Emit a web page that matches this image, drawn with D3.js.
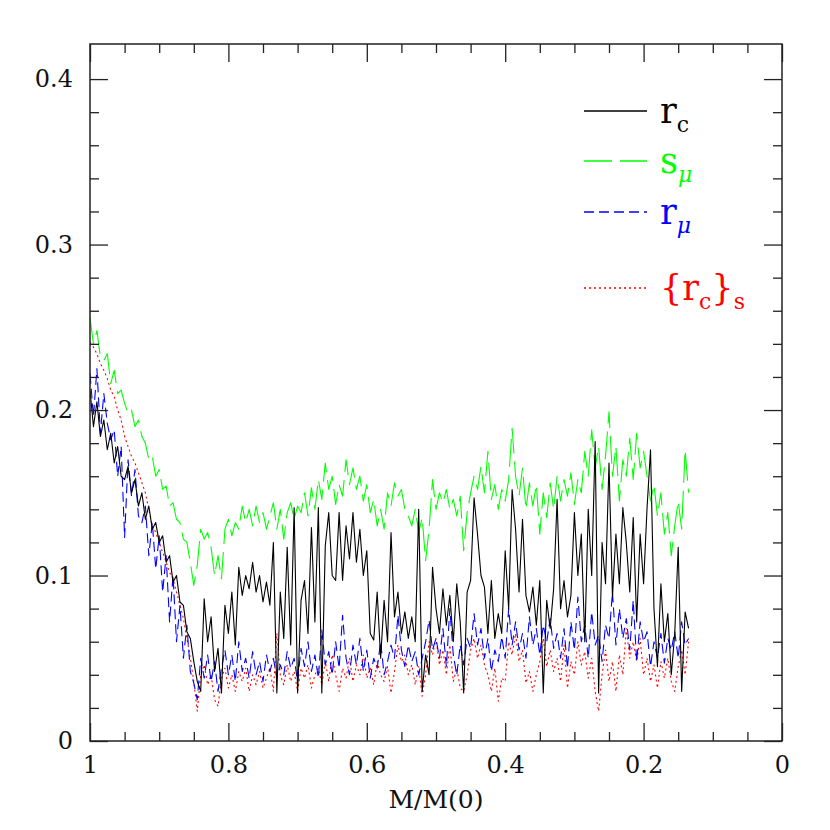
<!DOCTYPE html>
<html><head><meta charset="utf-8">
<script src="https://cdn.jsdelivr.net/npm/d3@7"></script>
<style>
body{margin:0;background:#fff;}
svg{display:block;}
text{font-family:"DejaVu Serif",serif;}
</style></head>
<body><svg id="c" width="830" height="830"></svg>
<script>
const M = [
1,.995,.99,.985,.98,.975,.97,.965,.96,.955,
.95,.945,.94,.935,.93,.925,.92,.915,.91,.905,
.9,.895,.89,.885,.88,.875,.87,.865,.86,.855,
.85,.845,.84,.835,.83,.825,.82,.815,.81,.805,
.8,.795,.79,.785,.78,.775,.77,.765,.76,.755,
.75,.745,.74,.735,.73,.725,.72,.715,.71,.705,
.7,.695,.69,.685,.68,.675,.67,.665,.66,.655,
.65,.645,.64,.635,.63,.625,.62,.615,.61,.605,
.6,.595,.59,.585,.58,.575,.57,.565,.56,.555,
.55,.545,.54,.535,.53,.525,.52,.515,.51,.505,
.5,.495,.49,.485,.48,.475,.47,.465,.46,.455,
.45,.445,.44,.435,.43,.425,.42,.415,.41,.405,
.4,.395,.39,.385,.38,.375,.37,.365,.36,.355,
.35,.345,.34,.335,.33,.325,.32,.315,.31,.305,
.3,.295,.29,.285,.28,.275,.27,.265,.26,.255,
.25,.245,.24,.235,.23,.225,.22,.215,.21,.205,
.2,.195,.19,.185,.18,.175,.17,.165,.16,.155,
.15,.145,.14,.135];

const rc = [
.212,.190,.205,.184,.194,.176,.186,.168,.178,.160,
.158,.166,.150,.158,.142,.150,.134,.142,.128,.132,
.120,.124,.108,.112,.096,.100,.084,.082,.066,.062,
.048,.036,.030,.086,.060,.075,.042,.056,.029,.082,
.065,.090,.058,.105,.088,.100,.092,.108,.090,.100,
.084,.096,.082,.120,.029,.090,.062,.117,.058,.141,
.029,.085,.097,.065,.129,.072,.141,.029,.118,.138,
.100,.097,.138,.097,.130,.110,.138,.108,.128,.100,
.115,.065,.061,.090,.050,.085,.060,.126,.075,.090,
.065,.078,.062,.075,.060,.140,.030,.052,.040,.105,
.080,.065,.092,.070,.088,.060,.095,.072,.029,.090,
.097,.147,.125,.100,.093,.065,.097,.062,.077,.065,
.115,.080,.152,.128,.090,.134,.088,.078,.093,.070,
.097,.029,.085,.068,.092,.146,.080,.097,.075,.088,
.138,.100,.125,.060,.140,.100,.181,.029,.120,.095,
.168,.087,.125,.095,.141,.120,.090,.135,.072,.125,
.095,.141,.176,.080,.045,.095,.060,.077,.040,.065,
.117,.030,.078,.068];

const smu = [
.256,.240,.248,.232,.230,.234,.216,.224,.210,.212,
.204,.198,.200,.190,.194,.184,.180,.170,.172,.160,
.164,.152,.154,.142,.144,.134,.132,.122,.120,.108,
.094,.106,.128,.122,.126,.117,.100,.112,.098,.128,
.134,.124,.132,.128,.142,.132,.140,.130,.142,.132,
.138,.128,.136,.144,.128,.140,.122,.138,.144,.134,
.142,.138,.150,.136,.153,.140,.158,.146,.168,.152,
.160,.143,.155,.148,.170,.155,.165,.152,.160,.145,
.155,.138,.146,.130,.140,.128,.150,.142,.156,.148,
.152,.140,.136,.130,.140,.126,.135,.109,.128,.158,
.140,.150,.144,.152,.140,.146,.136,.148,.115,.138,
.150,.160,.152,.166,.150,.175,.146,.155,.140,.152,
.145,.158,.189,.160,.148,.165,.140,.156,.142,.155,
.125,.150,.135,.156,.140,.160,.145,.158,.148,.162,
.143,.158,.150,.175,.160,.188,.165,.178,.152,.172,
.199,.160,.178,.145,.170,.160,.183,.158,.186,.165,
.175,.160,.145,.155,.136,.150,.125,.138,.112,.130,
.145,.128,.176,.150];

const rmu = [
.222,.196,.225,.186,.210,.192,.182,.188,.160,.178,
.123,.170,.148,.164,.136,.132,.142,.112,.132,.104,
.124,.090,.112,.072,.100,.060,.082,.050,.070,.042,
.035,.025,.050,.038,.052,.036,.048,.030,.044,.055,
.040,.052,.036,.060,.042,.050,.038,.054,.040,.048,
.036,.052,.042,.050,.038,.046,.040,.054,.044,.050,
.036,.056,.045,.060,.042,.052,.038,.067,.046,.054,
.040,.060,.044,.076,.050,.040,.058,.046,.062,.042,
.055,.038,.050,.044,.060,.040,.048,.058,.050,.076,
.055,.045,.058,.048,.054,.040,.050,.060,.073,.055,
.062,.050,.068,.045,.080,.052,.040,.058,.046,.062,
.056,.077,.058,.068,.050,.062,.042,.055,.048,.063,
.050,.080,.058,.072,.055,.065,.050,.075,.058,.068,
.052,.070,.060,.074,.056,.065,.050,.068,.044,.072,
.055,.087,.060,.070,.050,.078,.058,.064,.048,.070,
.062,.090,.058,.080,.062,.074,.055,.085,.048,.072,
.060,.066,.045,.060,.050,.065,.047,.062,.055,.066,
.050,.072,.058,.062];

const rcs = [
.241,.238,.234,.228,.224,.219,.212,.208,.200,.194,
.184,.178,.172,.168,.162,.156,.150,.140,.130,.126,
.120,.114,.108,.102,.098,.090,.082,.074,.062,.050,
.036,.018,.040,.046,.034,.040,.025,.021,.038,.044,
.032,.040,.030,.042,.036,.044,.030,.040,.034,.042,
.032,.038,.044,.030,.065,.040,.034,.046,.036,.042,
.030,.044,.038,.046,.032,.040,.044,.034,.048,.036,
.052,.040,.030,.044,.038,.050,.036,.046,.040,.052,
.038,.044,.034,.048,.040,.036,.045,.029,.042,.058,
.048,.052,.040,.046,.034,.045,.027,.040,.060,.052,
.062,.046,.055,.040,.058,.036,.044,.032,.030,.040,
.055,.062,.050,.058,.046,.040,.030,.044,.024,.038,
.036,.060,.052,.065,.048,.055,.035,.042,.030,.040,
.048,.062,.045,.055,.042,.050,.036,.058,.032,.048,
.040,.060,.046,.054,.038,.050,.030,.018,.040,.055,
.036,.048,.030,.052,.040,.068,.050,.060,.048,.062,
.040,.050,.036,.046,.032,.048,.038,.050,.036,.030,
.045,.055,.040,.060];

const xMajor = [1, 0.8, 0.6, 0.4, 0.2, 0];
const xMajorLabels = ["1", "0.8", "0.6", "0.4", "0.2", "0"];
const xMinor = [0.95,0.9,0.85,0.75,0.7,0.65,0.55,0.5,0.45,0.35,0.3,0.25,0.15,0.1,0.05];
const yMajor = [0, 0.1, 0.2, 0.3, 0.4];
const yMajorLabels = ["0", "0.1", "0.2", "0.3", "0.4"];
const yMinor = [0.02,0.04,0.06,0.08,0.12,0.14,0.16,0.18,0.22,0.24,0.26,0.28,0.32,0.34,0.36,0.38];

const seriesNames = ["rc", "smu", "rmu", "rcs"];
const seriesColors = ["#000000", "#00ff00", "#0000ff", "#ff0000"];
const seriesDash = [null, "28,8", "10,5", "2,3"];
const seriesData = [rc, smu, rmu, rcs];

const svg = d3.select("#c");
const L = 90, R = 782, T = 44, B = 741;
const x = d3.scaleLinear().domain([1, 0]).range([L, R]);
const y = d3.scaleLinear().domain([0, 0.4212]).range([B, T]);

const line = d3.line().x(d => x(d[0])).y(d => y(d[1]));
svg.append("clipPath").attr("id","clp").append("rect")
  .attr("x", L).attr("y", T).attr("width", R-L).attr("height", B-T);
const gData = svg.append("g").attr("clip-path","url(#clp)");
[3,2,1,0].forEach(i => {
  gData.append("path")
    .datum(d3.zip(M, seriesData[i]))
    .attr("d", line)
    .attr("fill","none")
    .attr("stroke", seriesColors[i])
    .attr("stroke-width", 1.1)
    .attr("stroke-linejoin","round")
    .attr("stroke-dasharray", seriesDash[i]);
});

const fs = 24;
function styleAxis(g){
  g.select(".domain").remove();
  g.selectAll(".tick line").attr("stroke","#222").attr("stroke-width",1.3);
  g.selectAll("text").attr("font-size", fs).attr("font-family","DejaVu Serif").attr("fill","#111");
}
function addAxis(gen, tx, ty){
  const g = svg.append("g").attr("transform",`translate(${tx},${ty})`).call(gen);
  styleAxis(g);
}
addAxis(d3.axisBottom(x).tickValues(xMajor).tickFormat((d,i)=>xMajorLabels[i]).tickSize(-18).tickPadding(15).tickSizeOuter(0), 0, B);
addAxis(d3.axisBottom(x).tickValues(xMinor).tickFormat("").tickSize(-9).tickSizeOuter(0), 0, B);
addAxis(d3.axisTop(x).tickValues(xMajor).tickFormat("").tickSize(-18).tickSizeOuter(0), 0, T);
addAxis(d3.axisTop(x).tickValues(xMinor).tickFormat("").tickSize(-9).tickSizeOuter(0), 0, T);
addAxis(d3.axisLeft(y).tickValues(yMajor).tickFormat((d,i)=>yMajorLabels[i]).tickSize(-18).tickPadding(17).tickSizeOuter(0), L, 0);
addAxis(d3.axisLeft(y).tickValues(yMinor).tickFormat("").tickSize(-9).tickSizeOuter(0), L, 0);
addAxis(d3.axisRight(y).tickValues(yMajor).tickFormat("").tickSize(-18).tickSizeOuter(0), R, 0);
addAxis(d3.axisRight(y).tickValues(yMinor).tickFormat("").tickSize(-9).tickSizeOuter(0), R, 0);

svg.append("rect").attr("x",L).attr("y",T).attr("width",R-L).attr("height",B-T)
  .attr("fill","none").attr("stroke","#222").attr("stroke-width",1.5);

svg.append("text").attr("x",(L+R)/2).attr("y",808).attr("text-anchor","middle")
  .attr("font-size",25).attr("fill","#111").text("M/M(0)");

const lg = svg.append("g");
const legY = [111, 161, 212, 288];
[0,1,2,3].forEach(i => {
  lg.append("line").attr("x1",584).attr("x2",647).attr("y1",legY[i]).attr("y2",legY[i])
    .attr("stroke",seriesColors[i]).attr("stroke-width",1.3).attr("stroke-dasharray",seriesDash[i]);
});
function legText(i, parts){
  const t = lg.append("text").attr("x",660).attr("y",legY[i]+12).attr("fill",seriesColors[i]);
  parts.forEach(p => {
    t.append("tspan").attr("font-size",p.s).attr("dy",p.dy||0)
      .attr("font-style",p.it?"italic":null).text(p.t);
  });
}
legText(0,[{t:"r",s:35},{t:"c",s:22,dy:9}]);
legText(1,[{t:"s",s:35},{t:"μ",s:22,dy:9,it:true}]);
legText(2,[{t:"r",s:35},{t:"μ",s:22,dy:9,it:true}]);
legText(3,[{t:"{",s:35},{t:"r",s:35},{t:"c",s:22,dy:9},{t:"}",s:35,dy:-9},{t:"s",s:22,dy:9}]);
</script></body></html>
